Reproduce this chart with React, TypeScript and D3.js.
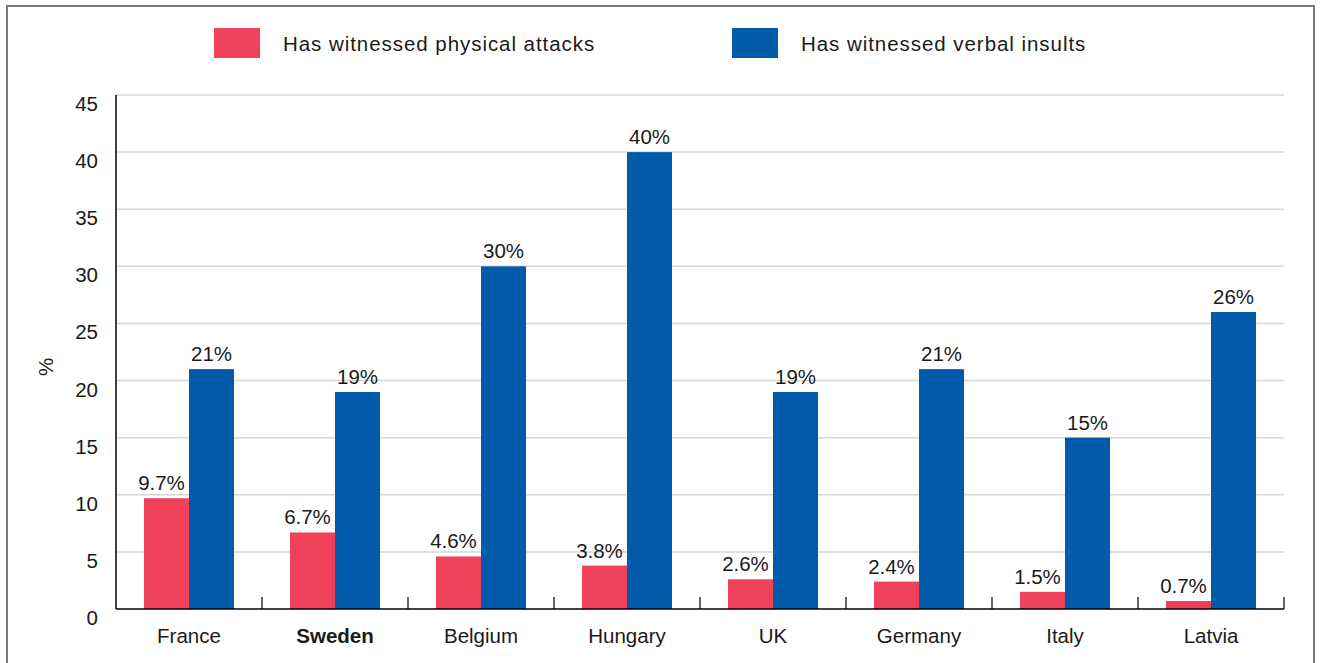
import React from "react";
import * as d3 from "d3";

const categories = ["France", "Sweden", "Belgium", "Hungary", "UK", "Germany", "Italy", "Latvia"];
const physical = [9.7, 6.7, 4.6, 3.8, 2.6, 2.4, 1.5, 0.7];
const verbal = [21, 19, 30, 40, 19, 21, 15, 26];
const physicalLabels = ["9.7%", "6.7%", "4.6%", "3.8%", "2.6%", "2.4%", "1.5%", "0.7%"];
const verbalLabels = ["21%", "19%", "30%", "40%", "19%", "21%", "15%", "26%"];
const yTicks = [0, 5, 10, 15, 20, 25, 30, 35, 40, 45];
const seriesNames = ["Has witnessed physical attacks", "Has witnessed verbal insults"];
const boldCategory = "Sweden";

const RED = "#F0405A";
const BLUE = "#005BAA";
const FONT = "'Liberation Sans', Arial, sans-serif";

export default function App() {
  const W = 1321, H = 663;
  const left = 116, right = 1284, top = 95, bottom = 609;
  const x = d3.scaleBand<string>().domain(categories).range([left, right]).paddingInner(0).paddingOuter(0);
  const y = d3.scaleLinear().domain([0, 45]).range([bottom, top]);
  const inner = d3.scaleBand<string>().domain(["p", "v"]).range([0, 90]);
  const bw = inner.bandwidth();
  const off = (x.bandwidth() - 90) / 2;
  const series = [
    { key: "p", vals: physical, labels: physicalLabels, color: RED, shift: -5 },
    { key: "v", vals: verbal, labels: verbalLabels, color: BLUE, shift: 0 },
  ];
  const fs = 20.5;
  return (
    <svg width={W} height={H} style={{ position: "absolute", left: 0, top: 0 }} fontFamily={FONT}>
      <rect x={0} y={0} width={W} height={H} fill="#fff" />
      <path d={`M7,${H + 5} V6 H1314 V${H + 5}`} fill="none" stroke="#7a7a7a" strokeWidth={2} />
      {/* legend */}
      <rect x={214} y={28} width={46} height={30} fill={RED} />
      <text x={283} y={51} fontSize={fs} fill="#1a1a1a" letterSpacing={0.95}>{seriesNames[0]}</text>
      <rect x={732} y={28} width={46} height={30} fill={BLUE} />
      <text x={801} y={51} fontSize={fs} fill="#1a1a1a" letterSpacing={0.95}>{seriesNames[1]}</text>
      {/* grid */}
      {yTicks.filter(t => t > 0).map(t => (
        <line key={t} x1={left} x2={right} y1={y(t)} y2={y(t)} stroke="#d6d6d6" strokeWidth={1.5} />
      ))}
      {yTicks.map(t => (
        <text key={t} x={98} y={y(t) + 16} fontSize={fs} textAnchor="end" fill="#1a1a1a">{t}</text>
      ))}
      <text transform={`translate(53,367) rotate(-90)`} fontSize={fs} textAnchor="middle" fill="#1a1a1a">%</text>
      {/* bars */}
      {categories.map((c, i) => (
        <g key={c}>
          {series.map(s => {
            const bx = (x(c) as number) + off + (inner(s.key) as number);
            return (
              <g key={s.key}>
                <rect x={bx} y={y(s.vals[i])} width={bw} height={bottom - y(s.vals[i])} fill={s.color} />
                <text x={bx + bw / 2 + s.shift} y={y(s.vals[i]) - 8} fontSize={fs} textAnchor="middle" fill="#1a1a1a">{s.labels[i]}</text>
              </g>
            );
          })}
          <text x={(x(c) as number) + x.bandwidth() / 2} y={643} fontSize={fs} textAnchor="middle"
            fontWeight={c === boldCategory ? "bold" : "normal"} fill="#1a1a1a">{c}</text>
        </g>
      ))}
      {/* axes */}
      <line x1={left} x2={left} y1={top} y2={bottom} stroke="#000" strokeWidth={1.5} />
      <line x1={left} x2={right} y1={bottom} y2={bottom} stroke="#000" strokeWidth={1.5} />
      {categories.map((c, i) => (
        <line key={c} x1={(x(c) as number) + x.bandwidth()} x2={(x(c) as number) + x.bandwidth()} y1={bottom} y2={bottom - 12} stroke="#000" strokeWidth={1.2} />
      ))}
    </svg>
  );
}
